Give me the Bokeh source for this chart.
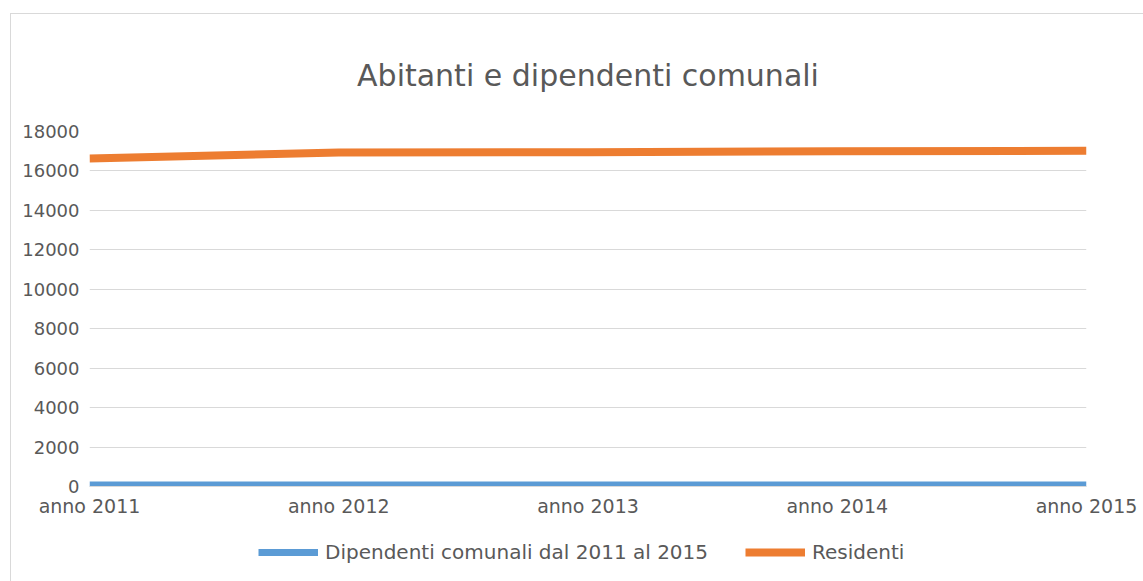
from bokeh.plotting import figure
from bokeh.layouts import column
from bokeh.models import FixedTicker, Legend, LegendItem, ColumnDataSource, Range1d
from bokeh.embed import file_html
from bokeh.resources import INLINE

# ---- data ----
anni = ["anno 2011", "anno 2012", "anno 2013", "anno 2014", "anno 2015"]
residenti = [16630, 16930, 16950, 17000, 17020]
dipendenti = [75, 75, 75, 75, 75]
y_ticks = [0, 2000, 4000, 6000, 8000, 10000, 12000, 14000, 16000, 18000]
serie = ["Dipendenti comunali dal 2011 al 2015", "Residenti"]
colori = ["#5B9BD5", "#ED7D31"]

GRAY = "#595959"
FONT = "DejaVu Sans"

src = ColumnDataSource(dict(x=list(range(len(anni))), res=residenti, dip=dipendenti))

p = figure(width=1133, height=508, output_backend="svg", toolbar_location=None,
           x_range=Range1d(0, len(anni) - 1), y_range=Range1d(0, 18000),
           min_border_left=78, min_border_right=58, min_border_top=117,
           min_border_bottom=36)
p.margin = 0

p.title.text = "Abitanti e dipendenti comunali"
p.title.align = "center"
p.title.text_font = FONT
p.title.text_font_size = "30px"
p.title.text_font_style = "normal"
p.title.text_color = GRAY
p.title.standoff = 78

p.outline_line_color = None
p.background_fill_color = "white"
p.border_fill_color = "white"

p.line("x", "dip", source=src, line_color=colori[0], line_width=7, line_cap="butt")
p.line("x", "res", source=src, line_color=colori[1], line_width=8, line_cap="butt")

# axes
p.xaxis.ticker = FixedTicker(ticks=list(range(len(anni))))
p.xaxis.major_label_overrides = {i: a for i, a in enumerate(anni)}
p.xaxis.axis_line_color = "#d9d9d9"
p.xaxis.major_tick_line_color = None
p.xaxis.minor_tick_line_color = None
p.xaxis.major_tick_out = 0
p.xaxis.major_tick_in = 0
p.xaxis.major_label_text_font = FONT
p.xaxis.major_label_text_font_size = "19px"
p.xaxis.major_label_text_color = GRAY
p.xaxis.major_label_standoff = 8

p.yaxis.ticker = FixedTicker(ticks=y_ticks)
p.yaxis.axis_line_color = None
p.yaxis.major_tick_line_color = None
p.yaxis.minor_tick_line_color = None
p.yaxis.major_tick_out = 0
p.yaxis.major_tick_in = 0
p.yaxis.major_label_text_font = FONT
p.yaxis.major_label_text_font_size = "18px"
p.yaxis.major_label_text_color = GRAY
p.yaxis.major_label_standoff = 10

p.xgrid.grid_line_color = None
p.ygrid.ticker = FixedTicker(ticks=y_ticks)
p.ygrid.grid_line_color = "#d9d9d9"
p.ygrid.grid_line_width = 1

# legend strip below the chart (renderers use the same data, outside the strip's visible range)
lf = figure(width=1133, height=60, output_backend="svg", toolbar_location=None,
            x_axis_type=None, y_axis_type=None, min_border=0,
            x_range=Range1d(-10, -9), y_range=Range1d(-10, -9))
lf.margin = 0
lf.outline_line_color = None
lf.xgrid.grid_line_color = None
lf.ygrid.grid_line_color = None
items = []
for name, col, lw, key in zip(serie, colori, [7, 8], ["dip", "res"]):
    r = lf.line("x", key, source=src, line_color=col, line_width=lw, line_cap="butt")
    items.append(LegendItem(label=name, renderers=[r]))

legend = Legend(items=items, orientation="horizontal", location=(169, 18),
                glyph_width=60, glyph_height=20, spacing=37, label_standoff=7,
                label_text_font=FONT, label_text_font_size="20px", label_text_color=GRAY,
                border_line_color=None, background_fill_alpha=0, padding=4, margin=0)
lf.add_layout(legend, "center")

layout = column(p, lf, spacing=0)
layout.margin = (13, 0, 0, 10)
layout.styles = {"border-left": "1px solid #d9d9d9", "border-top": "1px solid #d9d9d9"}

open("out.html", "w").write(file_html(layout, INLINE))
